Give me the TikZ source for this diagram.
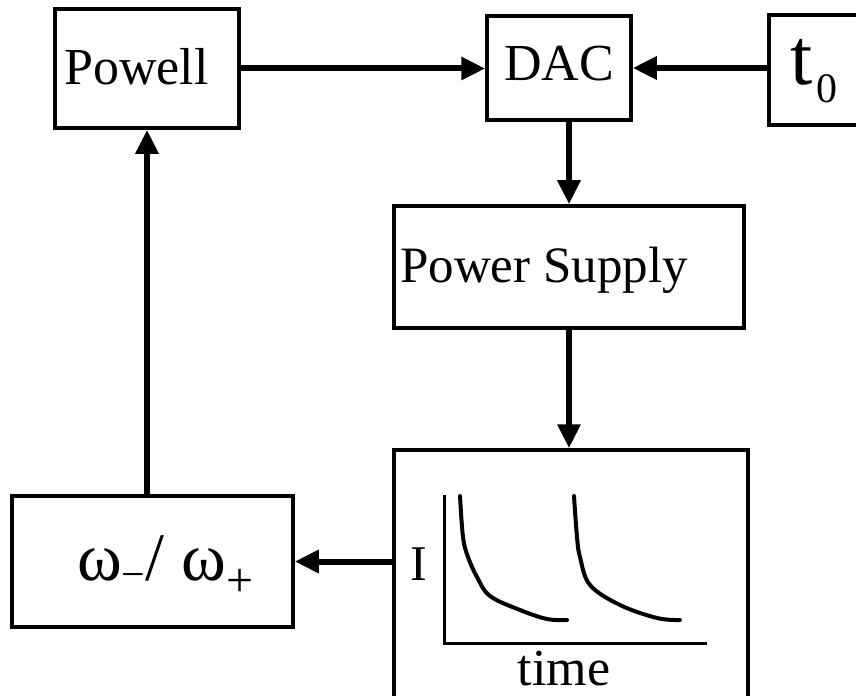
\documentclass[tikz,border=0pt]{standalone}
\usepackage{fontspec}
\setmainfont{Liberation Serif}
\usetikzlibrary{arrows.meta}
\newcommand{\fs}[1]{\fontsize{#1bp}{#1bp}\selectfont}
\begin{document}
\begin{tikzpicture}[x=1bp,y=-1bp,
  box/.style={draw, line width=3.5bp, inner sep=0pt, fill=none},
  txt/.style={inner sep=0pt, anchor=base west},
  flow/.style={line width=6bp, -{Triangle[length=24bp,width=22bp]}},
  axis/.style={line width=3bp},
  decay/.style={line width=4bp, line cap=round, line join=round}]
\clip (0,0) rectangle (856,696);
\fill[white] (0,0) rectangle (856,696);
% boxes
\node[box, minimum width=184bp, minimum height=119bp] (powell) at (147,68.5) {};
\node[box, minimum width=144bp, minimum height=104bp] (dac) at (559,68) {};
\node[box, minimum width=131bp, minimum height=110bp] (t0) at (834.5,70) {};
\node[box, minimum width=350bp, minimum height=122bp] (ps) at (569,267) {};
\node[box, minimum width=354bp, minimum height=255bp] (graph) at (571,577.5) {};
\node[box, minimum width=281bp, minimum height=131bp] (omega) at (152.5,561.5) {};
% texts
\node[txt] (powelltxt) at (64,85) {\fs{52}Powell};
\node[txt] (dactxt) at (504,81) {\fs{52}DAC};
\node[txt] (ttxt) at (790,85) {\fs{80}t};
\node[txt] (zerotxt) at (816,103) {\fs{42}0};
\node[txt] (pstxt) at (400,282) {\fs{51}Power Supply};
\node[txt] (itxt) at (410,580) {\fs{50}I};
\node[inner sep=0pt, anchor=base] (timetxt) at (564,685) {\fs{52}time};
\node[txt] (omtxt) at (77,580) {\fs{68}ω\raisebox{-0.12em}{\fs{42}−}/ ω\raisebox{-0.24em}{\fs{48}+}};
% connectors
\draw[flow, line cap=round] (powell.east) -- (powell.east -| dac.west);
\draw[flow] (t0.west |- dac.east) -- (dac.east);
\draw[flow] (dac.south -| ps.north) -- (ps.north);
\draw[flow] (ps.south) -- (ps.south |- graph.north);
\draw[flow] (graph.west |- omega.east) -- (omega.east);
\draw[flow] (omega.north -| powell.south) -- (powell.south);
% plot inside graph box
\draw[axis] (444,495) -- (444,643) -- (707,643);
\draw[decay] plot[smooth, tension=0.6] coordinates {(460,496) (463,537) (468,557) (477,577) (490,596) (520,610) (547,619) (567,620)};
\draw[decay] plot[smooth, tension=0.6] coordinates {(574,496) (577,537) (580,557) (590,585) (620,605) (657,618) (680,620)};
\end{tikzpicture}
\end{document}
